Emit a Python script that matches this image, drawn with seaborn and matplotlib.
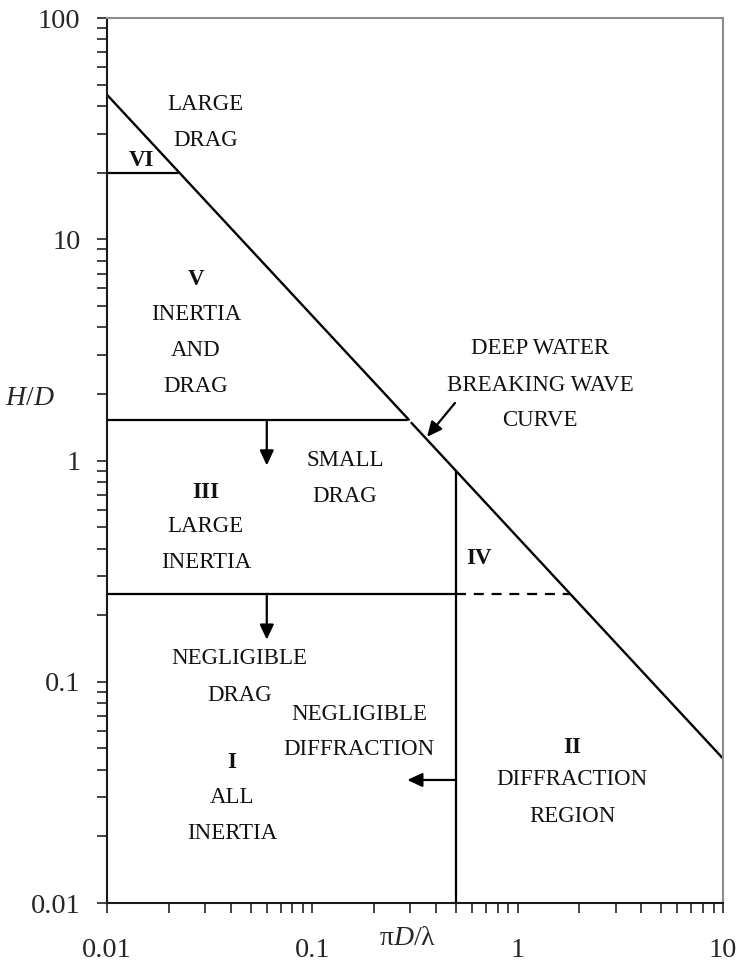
import numpy as np
import pandas as pd
import matplotlib
matplotlib.use("Agg")
import matplotlib.pyplot as plt
from matplotlib.ticker import FixedLocator, NullFormatter, LogLocator
import seaborn as sns

# ---------------- data ----------------
# deep water breaking wave curve (two pieces, small gap near H/D~1.5)
bw_x = [0.01, 0.295, 0.304, 10]
bw_y = [45, 1.53, 1.48, 0.045]
bw_seg = [0, 0, 1, 1]

# region boundaries (solid)
vi_x, vi_y = [0.01, 0.0222], [20, 20]
upper_x, upper_y = [0.01, 0.29], [1.52, 1.52]
lower_x, lower_y = [0.01, 0.5], [0.25, 0.25]
vert_x, vert_y = [0.5, 0.5], [0.01, 0.9]
# dashed extension
dash_x, dash_y = [0.5, 1.8], [0.25, 0.25]

# arrows: (x_from, y_from, x_to, y_to)
arrow_x0 = [0.06, 0.06, 0.5, 0.495]
arrow_y0 = [1.52, 0.25, 0.036, 1.82]
arrow_x1 = [0.06, 0.06, 0.29, 0.362]
arrow_y1 = [0.95, 0.155, 0.036, 1.28]

# region labels
lab_text = ["LARGE", "DRAG", "VI", "V", "INERTIA", "AND", "DRAG",
            "III", "LARGE", "INERTIA", "SMALL", "DRAG",
            "NEGLIGIBLE", "DRAG", "NEGLIGIBLE", "DIFFRACTION",
            "I", "ALL", "INERTIA", "IV", "II", "DIFFRACTION", "REGION",
            "DEEP WATER", "BREAKING WAVE", "CURVE"]
lab_x = [0.0303, 0.0303, 0.01465, 0.0271, 0.0271, 0.0271, 0.0271,
         0.0303, 0.0303, 0.0303, 0.144, 0.144,
         0.044, 0.044, 0.169, 0.169,
         0.0406, 0.0406, 0.0406, 0.648, 1.84, 1.84, 1.84,
         1.285, 1.285, 1.285]
lab_y = [40.8, 28.1, 22.8, 6.6, 4.55, 3.13, 2.17,
         0.72, 0.506, 0.347, 1.0, 0.69,
         0.128, 0.087, 0.0708, 0.0492,
         0.0434, 0.0301, 0.0207, 0.359, 0.0507, 0.036, 0.0247,
         3.22, 2.19, 1.52]
lab_bold = [False, False, True, True, False, False, False,
            True, False, False, False, False,
            False, False, False, False,
            True, False, False, True, True, False, False,
            False, False, False]

x_ticks = [0.01, 0.1, 1, 10]
x_tick_labels = ["0.01", "0.1", "1", "10"]
y_ticks = [0.01, 0.1, 1, 10, 100]
y_tick_labels = ["0.01", "0.1", "1", "10", "100"]

# ---------------- style ----------------
sns.set_theme(style="ticks")
plt.rcParams["font.family"] = ["Liberation Serif", "DejaVu Serif"]
plt.rcParams["mathtext.fontset"] = "custom"
plt.rcParams["mathtext.rm"] = "Liberation Serif"
plt.rcParams["mathtext.it"] = "Liberation Serif:italic"
plt.rcParams["mathtext.bf"] = "Liberation Serif:bold"

fig = plt.figure(figsize=(7.4, 9.65), dpi=100)
ax = fig.add_axes([0.1446, 0.0642, 0.8324, 0.9171])

LW = 1.6
bw_df = pd.DataFrame({"x": bw_x, "y": bw_y, "seg": bw_seg})
sns.lineplot(data=bw_df, x="x", y="y", units="seg", estimator=None, sort=False,
             color="black", lw=1.7, ax=ax)

bx, by, bs = [], [], []
for i, (xs, ys) in enumerate([(vi_x, vi_y), (upper_x, upper_y),
                              (lower_x, lower_y), (vert_x, vert_y)]):
    bx += xs
    by += ys
    bs += [i] * len(xs)
bd_df = pd.DataFrame({"x": bx, "y": by, "seg": bs})
sns.lineplot(data=bd_df, x="x", y="y", units="seg", estimator=None, sort=False,
             color="black", lw=LW, ax=ax)

dash_df = pd.DataFrame({"x": dash_x, "y": dash_y})
sns.lineplot(data=dash_df, x="x", y="y", estimator=None, sort=False,
             color="black", lw=LW, linestyle=(0, (4.5, 3.5)), ax=ax)

for x0, y0, x1, y1 in zip(arrow_x0, arrow_y0, arrow_x1, arrow_y1):
    ax.annotate("", xy=(x1, y1), xytext=(x0, y0),
                arrowprops=dict(arrowstyle="-|>,head_length=0.75,head_width=0.35",
                                color="black", lw=1.6, shrinkA=0, shrinkB=0))

for t, x, y, b in zip(lab_text, lab_x, lab_y, lab_bold):
    ax.text(x, y, t, ha="center", va="center", fontsize=16.5,
            fontweight="bold" if b else "normal", color="#111111")

ax.set_xscale("log")
ax.set_yscale("log")
ax.set_xlim(0.01, 10)
ax.set_ylim(0.01, 100)

ax.xaxis.set_major_locator(FixedLocator(x_ticks))
ax.set_xticklabels(x_tick_labels)
ax.yaxis.set_major_locator(FixedLocator(y_ticks))
ax.set_yticklabels(y_tick_labels)
ax.xaxis.set_minor_locator(LogLocator(base=10, subs=np.arange(2, 10)))
ax.yaxis.set_minor_locator(LogLocator(base=10, subs=np.arange(2, 10)))
ax.xaxis.set_minor_formatter(NullFormatter())
ax.yaxis.set_minor_formatter(NullFormatter())

ax.tick_params(which="both", direction="out", length=7, width=1.2, color="#222222")
ax.tick_params(axis="x", which="major", labelsize=20.5, pad=18)
ax.tick_params(axis="y", which="major", labelsize=20.5, pad=12)

ax.set_xlabel("")
ax.set_ylabel("")
ax.text(-0.125, 0.5706, r"$H/D$", transform=ax.transAxes, ha="center",
        va="center", fontsize=20)
ax.text(0.4886, -0.0395, r"$\mathrm{\pi}D/\mathrm{\lambda}$", transform=ax.transAxes,
        ha="center", va="center", fontsize=20)

for side in ["left", "bottom"]:
    ax.spines[side].set_color("#1a1a1a")
    ax.spines[side].set_linewidth(1.5)
for side in ["top", "right"]:
    ax.spines[side].set_visible(True)
    ax.spines[side].set_color("#8c8c8c")
    ax.spines[side].set_linewidth(1.5)

fig.savefig("out.png", dpi=100)
